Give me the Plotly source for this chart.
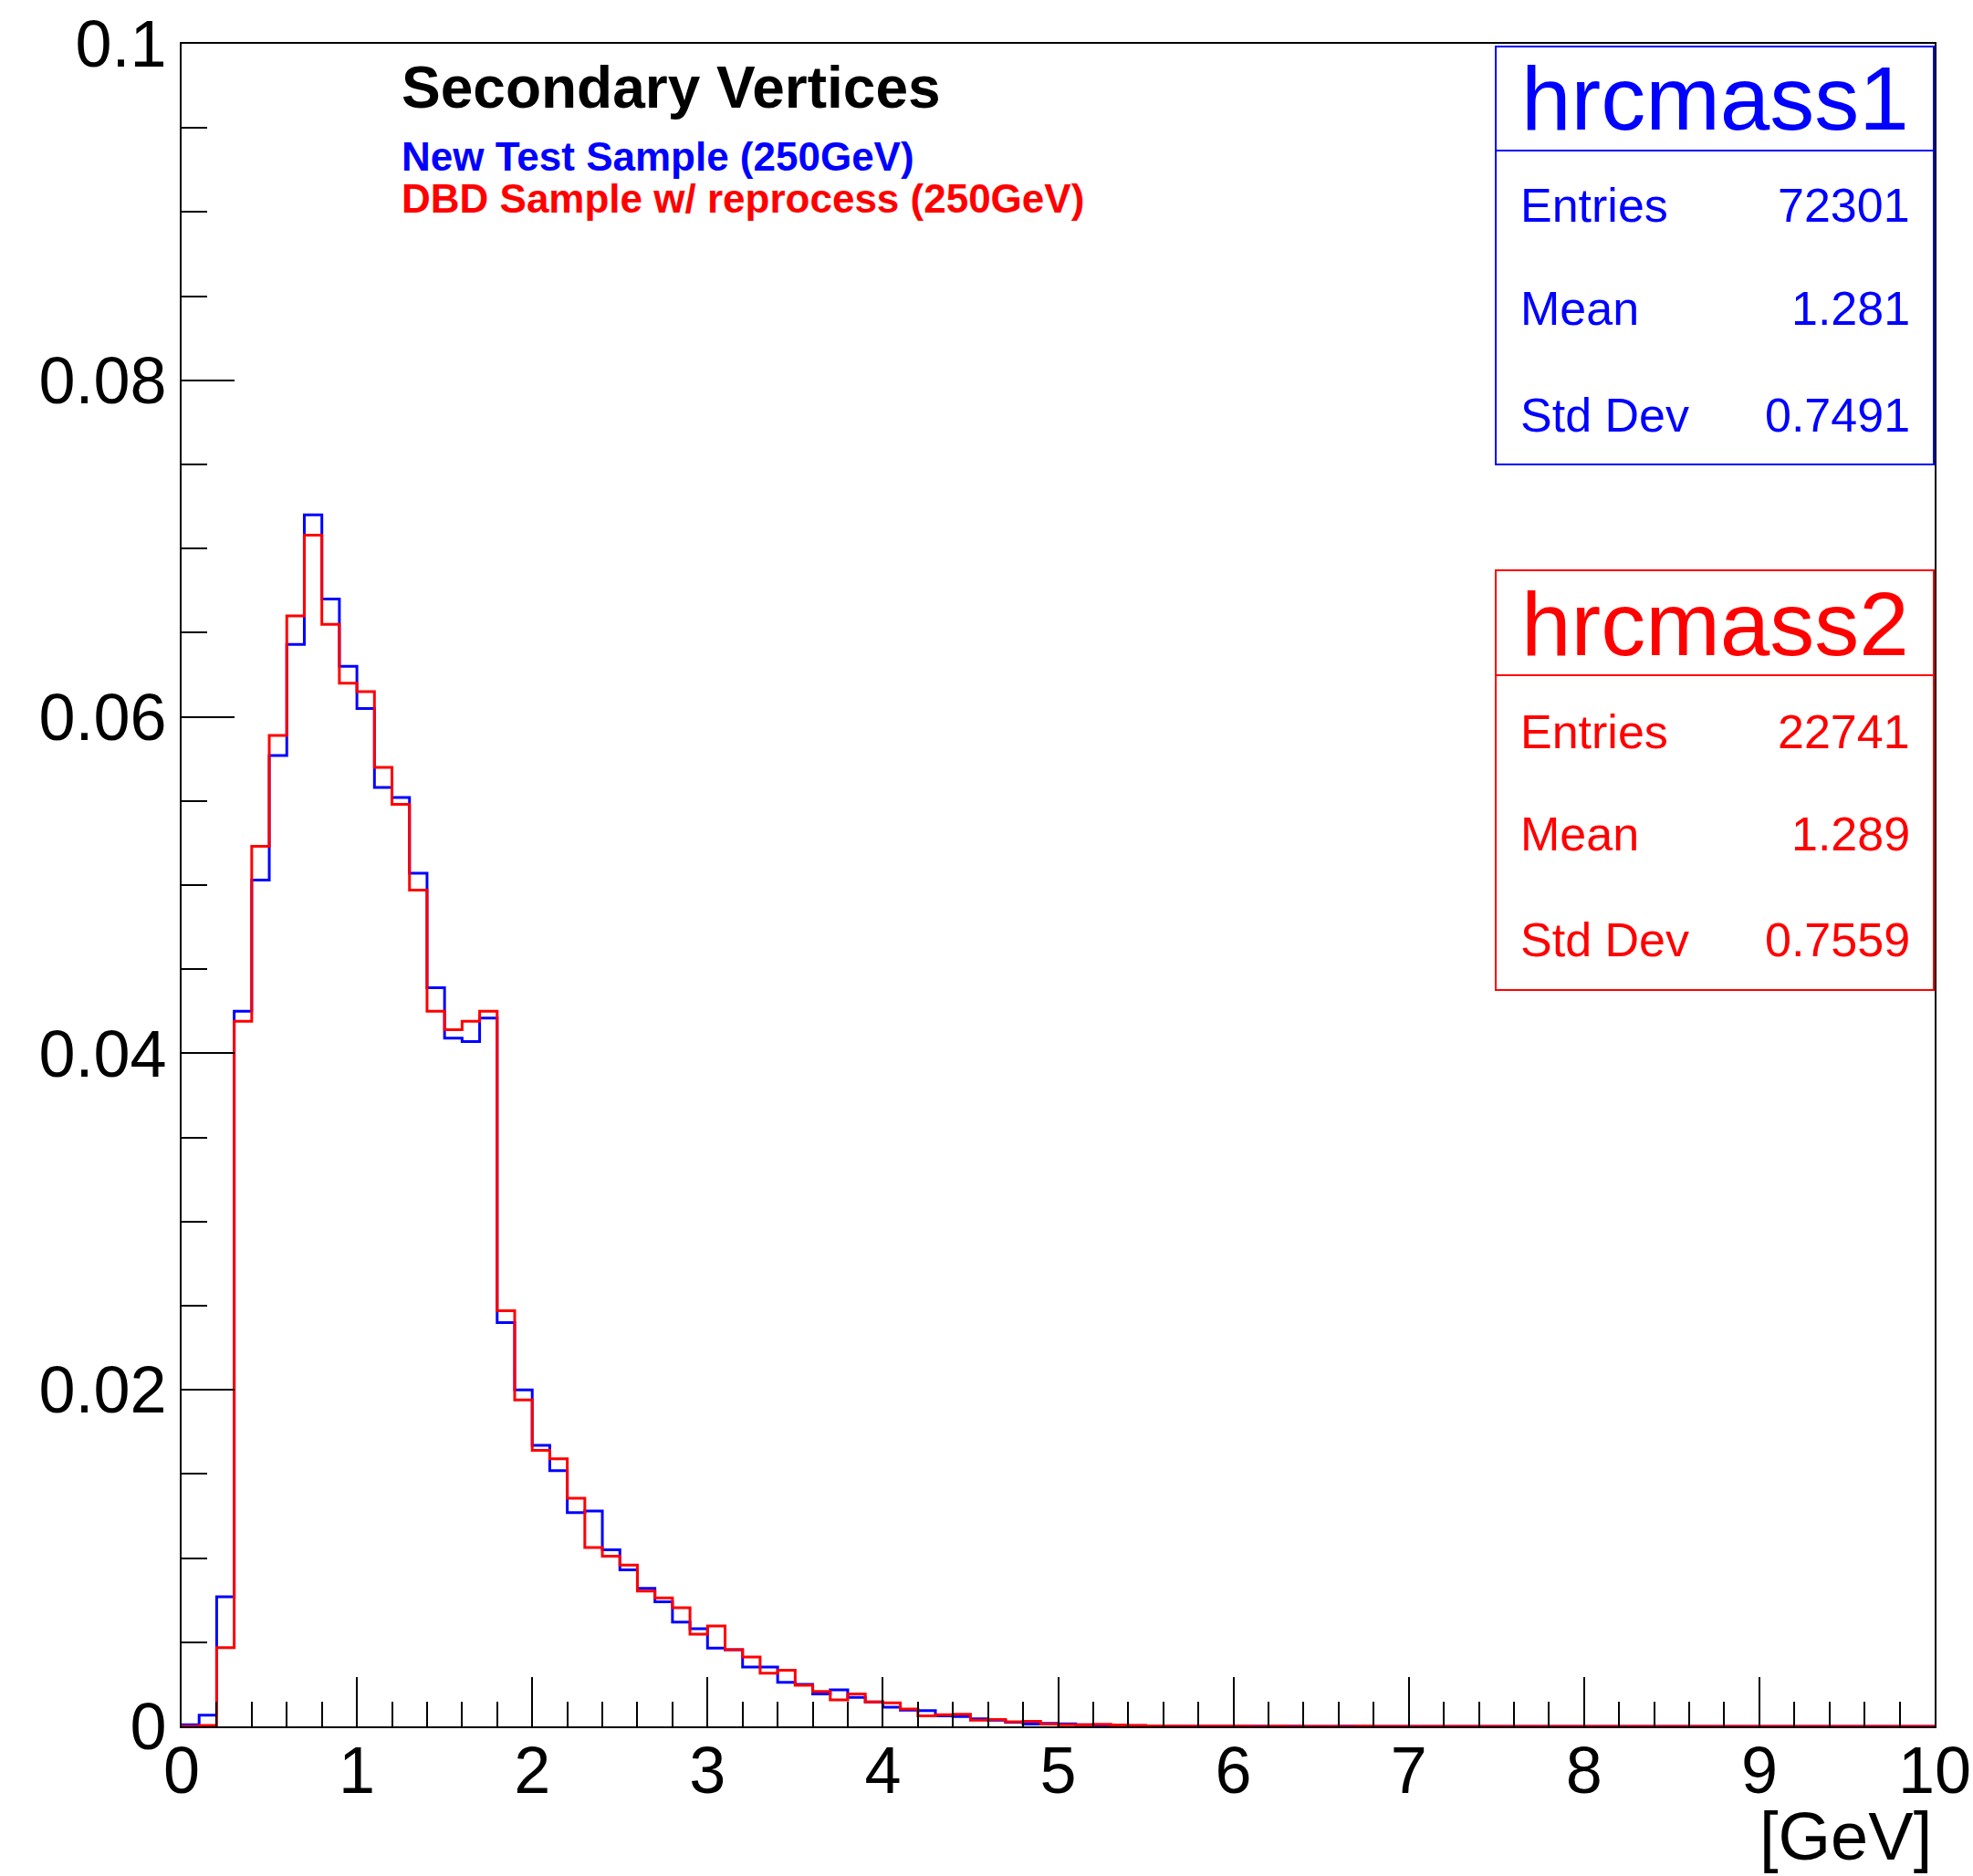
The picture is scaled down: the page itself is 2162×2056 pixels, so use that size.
import numpy as np
import plotly.graph_objects as go

# ---------------- data (normalised histograms, 100 bins of 0.1 GeV on [0,10]) -------------
bin_width = 0.1
n_bins = 100

blue_vals = [
    0.0001, 0.00066, 0.0077, 0.0425, 0.0503, 0.0577, 0.0643, 0.0720, 0.0670, 0.0630,
    0.0605, 0.0558, 0.0552, 0.0507, 0.0439, 0.0409, 0.0407, 0.0421, 0.0240, 0.0200,
    0.0167, 0.0152, 0.0127, 0.0128, 0.0105, 0.0093, 0.0082, 0.0074, 0.0062, 0.0058,
    0.00465, 0.00456, 0.00352, 0.00352, 0.00262, 0.00249, 0.00193, 0.00217, 0.00172, 0.00145,
    0.00114, 0.00096, 0.00094, 0.00063, 0.00058, 0.00045, 0.00036, 0.00024, 0.00013, 0.00018,
    0.00015, 0.0001, 0.00008, 0.00005, 0.00004, 0.00003, 0.00002, 0.00002, 0.00001, 0.00001,
    0.00001, 0.00001, 0.0, 0.00001, 0.0, 0.0, 0.00001, 0.0, 0.0, 0.0,
    0.0, 0.0, 0.0, 0.0, 0.0, 0.0, 0.0, 0.0, 0.0, 0.0,
    0.0, 0.0, 0.0, 0.0, 0.0, 0.0, 0.0, 0.0, 0.0, 0.0,
    0.0, 0.0, 0.0, 0.0, 0.0, 0.0, 0.0, 0.0, 0.0, 0.0,
]

red_vals = [
    0.0, 0.00005, 0.00468, 0.0419, 0.0523, 0.0589, 0.0660, 0.0708, 0.0655, 0.0620,
    0.0615, 0.0570, 0.0548, 0.0497, 0.0425, 0.0414, 0.0419, 0.0425, 0.0247, 0.0194,
    0.0164, 0.0159, 0.01356, 0.01063, 0.01012, 0.00958, 0.00804, 0.00763, 0.00705, 0.00548,
    0.00597, 0.00456, 0.00412, 0.00316, 0.00334, 0.00244, 0.00208, 0.00157, 0.00193, 0.00145,
    0.00139, 0.00103, 0.00063, 0.00069, 0.00072, 0.00036, 0.0004, 0.00027, 0.0003, 0.00013,
    0.0001, 0.0001, 0.00012, 0.00008, 0.00006, 0.00003, 0.00002, 0.00002, 0.00001, 0.00001,
    0.00001, 0.0, 0.00001, 0.0, 0.0, 0.0, 0.0, 0.00001, 0.0, 0.0,
    0.0, 0.0, 0.0, 0.0, 0.0, 0.0, 0.0, 0.0, 0.0, 0.0,
    0.0, 0.0, 0.0, 0.0, 0.0, 0.0, 0.0, 0.0, 0.0, 0.0,
    0.0, 0.0, 0.0, 0.0, 0.0, 0.0, 0.0, 0.0, 0.0, 0.0,
]

x_tick_vals = [0, 1, 2, 3, 4, 5, 6, 7, 8, 9, 10]
x_tick_text = ["0", "1", "2", "3", "4", "5", "6", "7", "8", "9", "10"]
y_tick_vals = [0, 0.02, 0.04, 0.06, 0.08, 0.1]
y_tick_text = ["0", "0.02", "0.04", "0.06", "0.08", "0.1"]

title_text = "Secondary Vertices"
label_blue = "New Test Sample (250GeV)"
label_red = "DBD Sample w/ reprocess (250GeV)"
x_title = "[GeV]"

stats_names = ["hrcmass1", "hrcmass2"]
stats_rows = ["Entries", "Mean", "Std Dev"]
stats_blue = ["72301", "1.281", "0.7491"]
stats_red = ["22741", "1.289", "0.7559"]

BLUE = "#0000ff"
RED = "#ff0000"
FONT = "Liberation Sans, Arial, Helvetica, sans-serif"

# ---------------- geometry ----------------
W, H = 2162, 2056
PL, PR, PT, PB = 199, 2120, 48, 1892


def px(x):
    return (x - PL) / (PR - PL)


def py(y):
    return (PB - y) / (PB - PT)


edges = np.round(np.arange(n_bins + 1) * bin_width, 6)


def step_y(vals):
    return list(vals) + [vals[-1]]


fig = go.Figure()
fig.add_trace(go.Scatter(x=edges, y=step_y(blue_vals), mode="lines",
                         line=dict(color=BLUE, width=3, shape="hv"),
                         showlegend=False, hoverinfo="skip"))
fig.add_trace(go.Scatter(x=edges, y=step_y(red_vals), mode="lines",
                         line=dict(color=RED, width=3, shape="hv"),
                         showlegend=False, hoverinfo="skip"))

axis_font = dict(family=FONT, size=72, color="black")

fig.update_xaxes(range=[0, 10], tickmode="array", tickvals=x_tick_vals, ticktext=x_tick_text,
                 ticks="inside", ticklen=54, tickwidth=2, tickcolor="black",
                 minor=dict(ticks="inside", ticklen=27, tickwidth=2, tickcolor="black",
                            tickmode="array", tickvals=list(np.round(np.arange(0, 10.001, 0.2), 4)),
                            showgrid=False),
                 showline=True, linecolor="black", linewidth=2, mirror=True,
                 showgrid=False, zeroline=False, tickfont=axis_font,
                 ticklabelstandoff=-15, automargin=False)
fig.update_yaxes(range=[0, 0.1], tickmode="array", tickvals=y_tick_vals, ticktext=y_tick_text,
                 ticks="inside", ticklen=58, tickwidth=2, tickcolor="black",
                 minor=dict(ticks="inside", ticklen=28, tickwidth=2, tickcolor="black",
                            tickmode="array", tickvals=list(np.round(np.arange(0, 0.10001, 0.005), 4)),
                            showgrid=False),
                 showline=True, linecolor="black", linewidth=2, mirror=True,
                 showgrid=False, zeroline=False, tickfont=axis_font,
                 ticklabelstandoff=0, automargin=False)

annotations = []
shapes = []

# header texts
annotations.append(dict(text="<b>%s</b>" % title_text, x=px(438), y=py(96), xref="paper", yref="paper",
                        xanchor="left", yanchor="middle", showarrow=False,
                        font=dict(family=FONT, size=64, color="black")))
annotations.append(dict(text="<b>%s</b>" % label_blue, x=px(438), y=py(171), xref="paper", yref="paper",
                        xanchor="left", yanchor="middle", showarrow=False,
                        font=dict(family=FONT, size=44, color=BLUE)))
annotations.append(dict(text="<b>%s</b>" % label_red, x=px(438), y=py(217), xref="paper", yref="paper",
                        xanchor="left", yanchor="middle", showarrow=False,
                        font=dict(family=FONT, size=44, color=RED)))

# x axis title
annotations.append(dict(text=x_title, x=px(2119), y=py(2012), xref="paper", yref="paper",
                        xanchor="right", yanchor="middle", showarrow=False,
                        font=dict(family=FONT, size=74, color="black")))

# stats boxes
boxes = [
    dict(name=stats_names[0], vals=stats_blue, color=BLUE, top=51, div=165, bottom=509,
         title_c=108, rows_c=[225, 338, 455]),
    dict(name=stats_names[1], vals=stats_red, color=RED, top=625, div=740, bottom=1085,
         title_c=684, rows_c=[802, 914, 1030]),
]
for b in boxes:
    shapes.append(dict(type="rect", xref="paper", yref="paper", x0=px(1639), x1=px(2119),
                       y0=py(b["bottom"]), y1=py(b["top"]), line=dict(color=b["color"], width=2),
                       fillcolor="white", layer="above"))
    shapes.append(dict(type="line", xref="paper", yref="paper", x0=px(1639), x1=px(2119),
                       y0=py(b["div"]), y1=py(b["div"]), line=dict(color=b["color"], width=2),
                       layer="above"))
    annotations.append(dict(text=b["name"], x=px(1879), y=py(b["title_c"]), xref="paper", yref="paper",
                            xanchor="center", yanchor="middle", showarrow=False,
                            font=dict(family=FONT, size=98, color=b["color"])))
    for name, val, yc in zip(stats_rows, b["vals"], b["rows_c"]):
        annotations.append(dict(text=name, x=px(1664), y=py(yc), xref="paper", yref="paper",
                                xanchor="left", yanchor="middle", showarrow=False,
                                font=dict(family=FONT, size=52, color=b["color"])))
        annotations.append(dict(text=val, x=px(2095), y=py(yc), xref="paper", yref="paper",
                                xanchor="right", yanchor="middle", showarrow=False,
                                font=dict(family=FONT, size=52, color=b["color"])))

fig.update_layout(width=W, height=H, autosize=False,
                  margin=dict(l=PL, r=W - PR, t=PT, b=H - PB, autoexpand=False),
                  paper_bgcolor="white", plot_bgcolor="white",
                  annotations=annotations, shapes=shapes, showlegend=False)

fig.write_html("out.html")
